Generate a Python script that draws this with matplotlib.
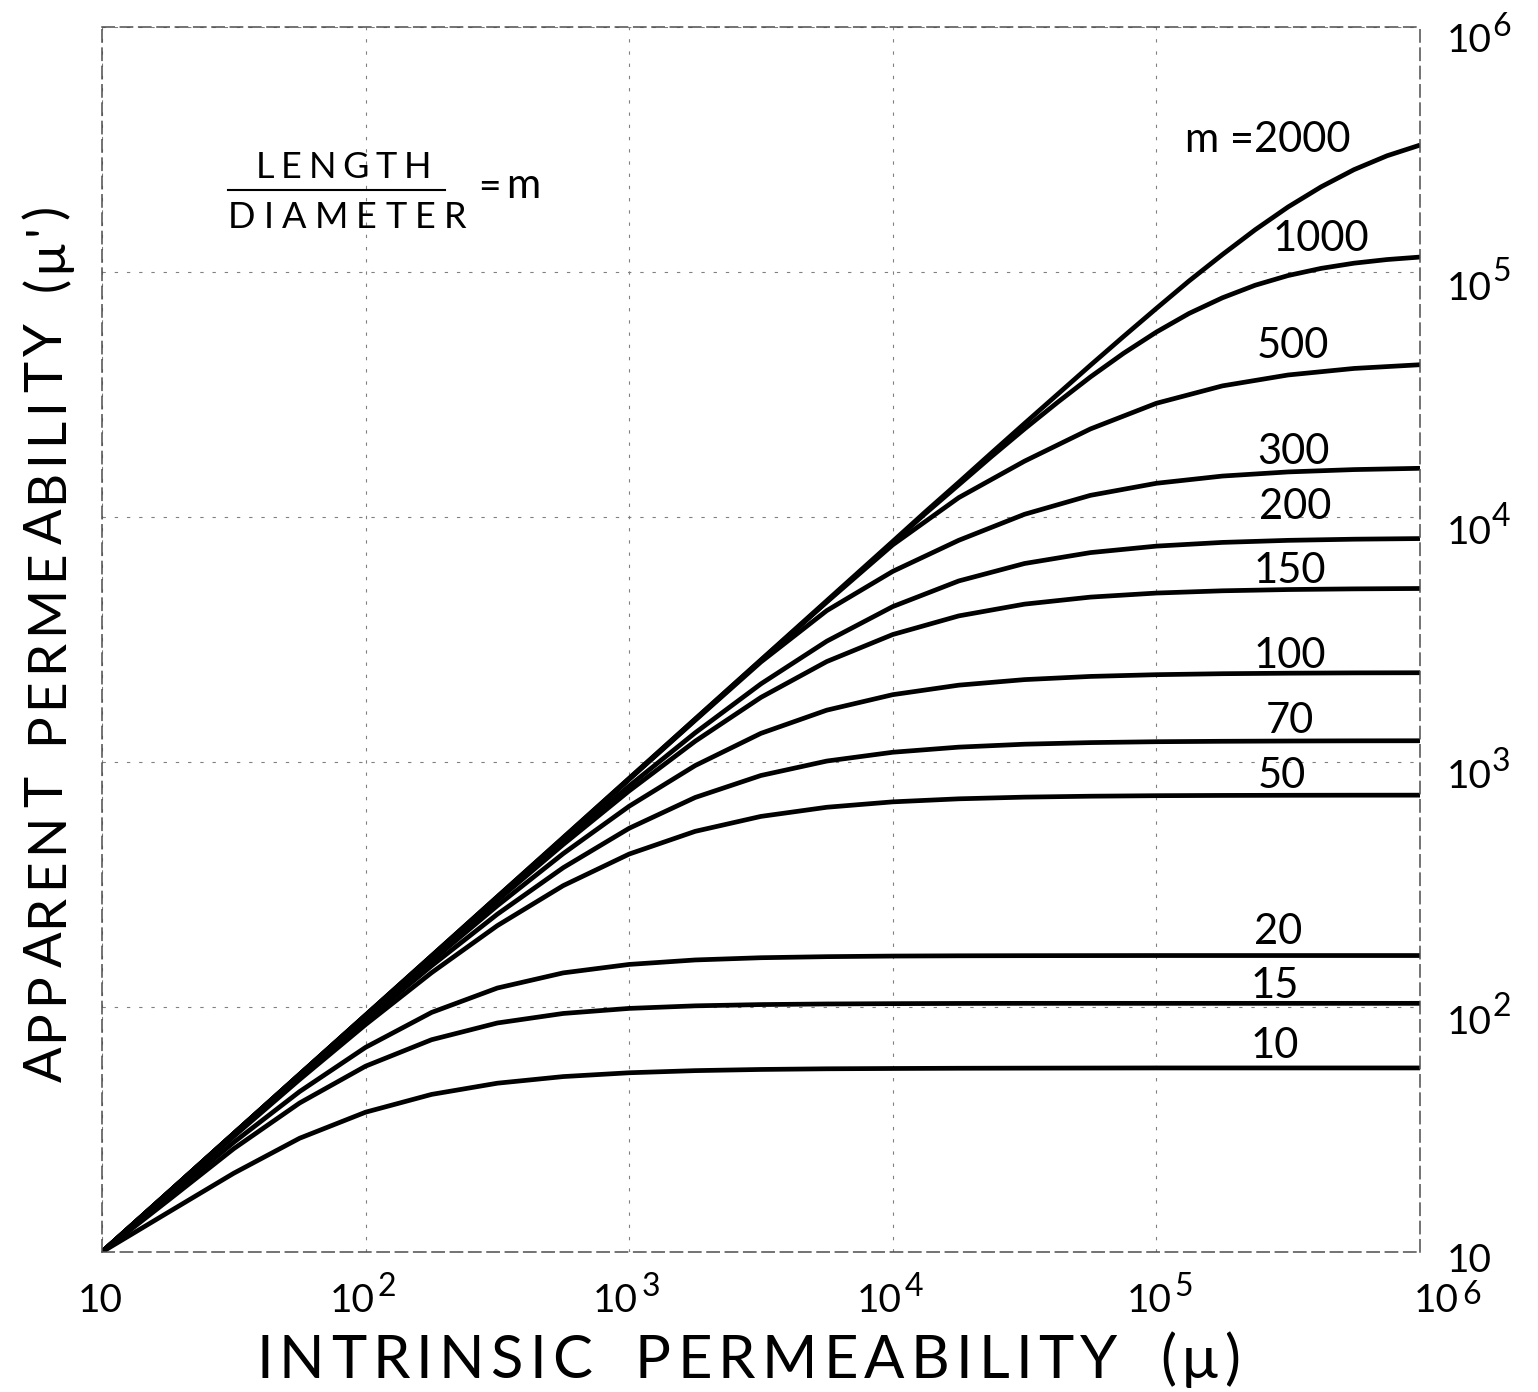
import numpy as np
import matplotlib
matplotlib.use('Agg')
import matplotlib.pyplot as plt
from matplotlib.lines import Line2D

plt.rcParams['font.family'] = ['Lato', 'DejaVu Sans']

# intrinsic permeability (quarter decades)
mu = [10, 17.8, 31.6, 56.2, 100, 178, 316, 562, 1e3, 1.78e3, 3.16e3, 5.62e3,
      1e4, 1.78e4, 3.16e4, 5.62e4, 1e5, 1.78e5, 3.16e5, 5.62e5, 1e6]
# finer steps for the two top curves, which bend late
mu_top = [10, 1e4, 1.33e4, 1.78e4, 2.37e4, 3.16e4, 4.22e4, 5.62e4, 7.5e4, 1e5,
          1.33e5, 1.78e5, 2.37e5, 3.16e5, 4.22e5, 5.62e5, 7.5e5, 1e6]

# apparent permeability, one list per length/diameter ratio
m2000 = [10, 7953, 10499, 13855, 18273, 24076, 31690, 41630, 54520, 71030,
         91920, 117790, 148750, 184300, 222770, 261700, 298140, 329610]
m1000 = [10, 7873, 10339, 13542, 17660, 22883, 29392, 37296, 46547, 56869,
         67737, 78469, 88308, 96728, 103490, 108640, 112420, 115070]
m500 = [10, 17.45, 30.44, 53.11, 92.57, 161.4, 281.3, 489.1, 855, 1495, 2600, 4500,
        7700, 12000, 16900, 22878, 29118, 34291, 37991, 40395, 41829]
m300 = [10, 17.44, 30.42, 53.05, 92.37, 160.8, 279.3, 482.9, 850, 1480, 2560, 4150,
        6000, 8035, 10258, 12257, 13728, 14692, 15276, 15614, 15804]
m200 = [10, 17.43, 30.39, 52.95, 92.06, 159.8, 276.1, 472.9, 798.6, 1316, 2084, 3113,
        4309, 5483, 6459, 7156, 7606, 7876, 8030, 8117, 8165]
m150 = [10, 17.42, 30.35, 52.83, 91.66, 158.5, 272.1, 460.6, 762.4, 1216, 1835, 2571,
        3314, 3948, 4409, 4710, 4893, 4998, 5057, 5089, 5107]
m100 = [10, 17.38, 30.21, 52.39, 90.29, 154.2, 259.1, 422.8, 660.1, 967.2, 1309, 1628,
        1883, 2059, 2169, 2235, 2272, 2293, 2304, 2311, 2314]
m70 = [10, 17.31, 29.98, 51.65, 88.0, 147.3, 239.2, 370.3, 536.5, 716.6, 880.9, 1009,
       1096, 1150, 1182, 1200, 1210, 1215, 1218, 1220, 1221]
m50 = [10, 17.20, 29.63, 50.58, 84.78, 138.1, 214.8, 312.9, 421.0, 521.2, 599.7, 653.6,
       687.6, 707.5, 718.8, 725.1, 728.6, 730.4, 731.4, 732.0, 732.3]
m20 = [10, 16.75, 28.03, 45.17, 68.44, 95.03, 119.5, 137.8, 149.2, 155.6, 158.9, 160.5,
       161.4, 161.8, 162.0, 162.1, 162.2, 162.2, 162.2, 162.2, 162.2]
m15 = [10, 16.23, 26.40, 40.57, 57.35, 73.53, 86.04, 94.11, 98.69, 101.1, 102.3, 102.9,
       103.2, 103.4, 103.5, 103.5, 103.5, 103.5, 103.5, 103.5, 103.5]
m10 = [10, 14.5, 20.96, 29.13, 37.21, 43.98, 48.86, 52.00, 53.90, 54.99, 55.60, 55.95,
       56.11, 56.23, 56.3, 56.35, 56.4, 56.4, 56.4, 56.4, 56.4]

curves = [m2000, m1000, m500, m300, m200, m150, m100, m70, m50, m20, m15, m10]
curve_x = [mu_top, mu_top] + [mu] * 10
curve_labels = ['m =2000', '1000', '500', '300', '200', '150', '100', '70', '50', '20', '15', '10']
label_x = [2.65e5, 4.2e5, 3.3e5, 3.3e5, 3.35e5, 3.2e5, 3.2e5, 3.2e5, 3.0e5, 2.9e5, 2.8e5, 2.8e5]
label_gap = [-7, 6, 7, 4, 20, 5, 5, 8, 7, 12, 5, 10]  # px above the flat end of the curve

decades = [10, 1e2, 1e3, 1e4, 1e5, 1e6]
exponents = ['', '2', '3', '4', '5', '6']
x_label_shift = [-2, 0, 0, 0, 6, 30]      # px, sideways
x_exp_drop = [32, 32, 32, 32, 32, 40]     # px below the axis for the exponent
y_label_drop = [5, 12, 12, 12, 13, 11]    # px below the grid line for "10"

W, H = 1538, 1392
PT = 72 / 100  # points per pixel


def fx(px):
    return px / W


def fy(py):
    return 1 - py / H


fig = plt.figure(figsize=(W / 100, H / 100), dpi=100)
renderer = fig.canvas.get_renderer()
ax = fig.add_axes([fx(102), fy(1252), (1420 - 102) / W, (1252 - 27) / H])

for xs, c in zip(curve_x, curves):
    ax.plot(xs, c, color='black', lw=3.4, solid_capstyle='butt', solid_joinstyle='round')

ax.set_xscale('log')
ax.set_yscale('log')
ax.set_xlim(10, 1e6)
ax.set_ylim(10, 1e6)
ax.set_xticks(decades)
ax.set_yticks(decades)
ax.minorticks_off()
ax.tick_params(axis='both', length=0, labelbottom=False, labelleft=False)

ax.grid(True, which='major', color='0.5', lw=0.8, dashes=(3, 8))
for s in ax.spines.values():
    s.set_linestyle((0, (8, 4)))
    s.set_linewidth(1.1)
    s.set_color('0.3')

# tick labels: "10" with a large raised exponent
for v, e, sh, dr in zip(decades, exponents, x_label_shift, x_exp_drop):
    if e:
        ax.annotate('10', xy=(v, 0), xycoords=('data', 'axes fraction'),
                    xytext=((9 + sh) * PT, -45 * PT), textcoords='offset points',
                    ha='right', va='center_baseline', fontsize=28)
        ax.annotate(e, xy=(v, 0), xycoords=('data', 'axes fraction'),
                    xytext=((12 + sh) * PT, -dr * PT), textcoords='offset points',
                    ha='left', va='center_baseline', fontsize=23)
    else:
        ax.annotate('10', xy=(v, 0), xycoords=('data', 'axes fraction'),
                    xytext=(sh * PT, -45 * PT), textcoords='offset points',
                    ha='center', va='center_baseline', fontsize=28)
for v, e, dr in zip(decades, exponents, y_label_drop):
    ax.annotate('10', xy=(1, v), xycoords=('axes fraction', 'data'),
                xytext=(27 * PT, -dr * PT), textcoords='offset points',
                ha='left', va='center_baseline', fontsize=28)
    if e:
        ax.annotate(e, xy=(1, v), xycoords=('axes fraction', 'data'),
                    xytext=(72 * PT, 3 * PT), textcoords='offset points',
                    ha='left', va='center_baseline', fontsize=23)

for lab, lx, gap, c in zip(curve_labels, label_x, label_gap, curves):
    ax.annotate(lab, xy=(lx, c[-1]), xytext=(0, gap * PT), textcoords='offset points',
                ha='center', va='baseline', fontsize=30)


def advances(s, size, space_factor):
    ref = fig.text(0, 0, '||', fontsize=size)
    w0 = ref.get_window_extent(renderer).width
    ref.remove()
    out = []
    for ch in s:
        t = fig.text(0, 0, '|' + ch + '|', fontsize=size)
        w = t.get_window_extent(renderer).width - w0
        t.remove()
        out.append(w * space_factor if ch == ' ' else w)
    return out


def spaced_text(s, start_px, base_px, span_px, size, vertical=False, space_factor=2.0):
    # lettering with wide, even spacing like the stencilled original
    adv = advances(s, size, space_factor)
    track = max((span_px - sum(adv)) / (len(s) - 1), 1.0)
    pos = start_px
    for ch, a in zip(s, adv):
        if ch != ' ':
            if vertical:
                fig.text(fx(base_px), fy(pos), ch, rotation=90, rotation_mode='anchor',
                         ha='left', va='baseline', fontsize=size)
            else:
                fig.text(fx(pos), fy(base_px), ch, ha='left', va='baseline', fontsize=size)
        pos += -(a + track) if vertical else (a + track)


spaced_text("APPARENT PERMEABILITY (\u03bc')", 1082, 62, 877, 38, vertical=True, space_factor=1.6)
spaced_text('INTRINSIC PERMEABILITY (\u03bc)', 256, 1378, 984, 43, space_factor=2.0)
spaced_text('LENGTH', 256, 178, 175, 26)
spaced_text('DIAMETER', 228, 228, 238, 26)
fig.add_artist(Line2D([fx(228), fx(445)], [fy(190), fy(190)], color='black', lw=1.5))
fig.text(fx(489), fy(188), '=', ha='center', va='center', fontsize=28)
fig.text(fx(506), fy(198), 'm', ha='left', va='baseline', fontsize=30)

fig.savefig('out.png', dpi=100, facecolor='white')
